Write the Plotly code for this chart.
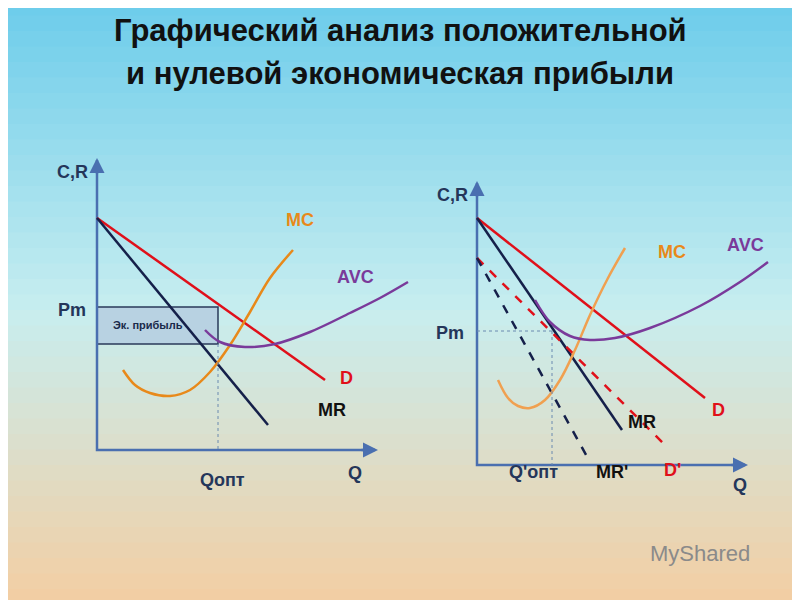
import plotly.graph_objects as go

# Schematic coordinates in slide units (x: 0..800 to the right, y: 0..600 downward)
# ---- left panel
L_AXIS_X = [97, 97, 375]
L_AXIS_Y = [160, 450, 450]
L_D_X, L_D_Y = [97, 325], [218, 380]
L_MR_X, L_MR_Y = [97, 268], [218, 425]
L_MC_X = [123, 135, 150, 170, 190, 210, 230, 250, 270, 293]
L_MC_Y = [370, 385, 393, 396, 390, 372, 345, 312, 278, 250]
L_AVC_X = [205, 220, 245, 275, 310, 350, 380, 408]
L_AVC_Y = [330, 342, 347, 344, 332, 313, 298, 282]
L_PROFIT_X = [97, 218]
L_PROFIT_Y = [307, 344]
# ---- right panel
R_AXIS_X = [477, 477, 745]
R_AXIS_Y = [183, 465, 465]
R_D_X, R_D_Y = [477, 705], [218, 398]
R_MR_X, R_MR_Y = [477, 622], [218, 430]
R_D2_X, R_D2_Y = [477, 668], [258, 448]
R_MR2_X, R_MR2_Y = [477, 590], [258, 462]
R_MC_X = [498, 508, 518, 530, 545, 560, 575, 590, 608, 625]
R_MC_Y = [380, 398, 406, 408, 400, 380, 350, 315, 278, 248]
R_AVC_X = [535, 550, 570, 590, 615, 650, 700, 740, 768]
R_AVC_Y = [300, 322, 336, 340, 338, 328, 306, 282, 262]
R_PM_Y = 331
R_Q_X = 552

ORANGE = "#e8891a"
PURPLE = "#7a3a9a"
RED = "#e0101a"
NAVY = "#15204a"
AXIS = "#4a6fb0"
OFF = 8  # page body margin shift

fig = go.Figure()

# background gradient bands (cyan top -> peach bottom)
top, mid, bot = (110, 205, 235), (200, 238, 240), (245, 205, 160)
shapes = []
n = 40
for i in range(n):
    t = i / (n - 1)
    if t < 0.5:
        a, b, u = top, mid, t / 0.5
    else:
        a, b, u = mid, bot, (t - 0.5) / 0.5
    c = tuple(int(a[k] + (b[k] - a[k]) * u) for k in range(3))
    shapes.append(dict(type="rect", xref="x", yref="y", x0=0, x1=820,
                       y0=620 * i / n, y1=620 * (i + 1) / n + 1,
                       fillcolor="rgb(%d,%d,%d)" % c, line_width=0, layer="below"))

# profit rectangle (under the curves)
shapes.append(dict(type="rect", xref="x", yref="y", x0=L_PROFIT_X[0], x1=L_PROFIT_X[1],
                   y0=L_PROFIT_Y[0], y1=L_PROFIT_Y[1], fillcolor="#b8d2e2",
                   line=dict(color="#2a3a5a", width=1.5), layer="below"))
# dashed guides
shapes.append(dict(type="line", x0=L_PROFIT_X[1], x1=L_PROFIT_X[1], y0=L_PROFIT_Y[1], y1=450,
                   line=dict(color="#6a8ab0", width=1, dash="dot")))
shapes.append(dict(type="line", x0=477, x1=R_Q_X, y0=R_PM_Y, y1=R_PM_Y,
                   line=dict(color="#6a8ab0", width=1, dash="dot")))
shapes.append(dict(type="line", x0=R_Q_X, x1=R_Q_X, y0=R_PM_Y, y1=465,
                   line=dict(color="#6a8ab0", width=1, dash="dot")))


def line(x, y, color, width=2.5, dash="solid", shape="spline"):
    fig.add_trace(go.Scatter(x=x, y=y, mode="lines", line=dict(color=color, width=width,
                                                               dash=dash, shape=shape),
                             hoverinfo="skip"))


line(L_AXIS_X, L_AXIS_Y, AXIS, 2.5, shape="linear")
line(R_AXIS_X, R_AXIS_Y, AXIS, 2.5, shape="linear")
line(L_D_X, L_D_Y, RED)
line(L_MR_X, L_MR_Y, NAVY)
line(L_MC_X, L_MC_Y, ORANGE)
line(L_AVC_X, L_AVC_Y, PURPLE)
line(R_D_X, R_D_Y, RED)
line(R_MR_X, R_MR_Y, NAVY)
line(R_D2_X, R_D2_Y, RED, dash="dash")
line(R_MR2_X, R_MR2_Y, NAVY, dash="dash")
line(R_MC_X, R_MC_Y, "#f0a050")
line(R_AVC_X, R_AVC_Y, PURPLE)

ann = []
for ax0, ay0, ax1, ay1 in [(97, 175, 97, 158), (360, 450, 378, 450),
                           (477, 198, 477, 181), (730, 465, 748, 465)]:
    ann.append(dict(x=ax1, y=ay1, ax=ax0, ay=ay0, xref="x", yref="y", axref="x", ayref="y",
                    showarrow=True, arrowhead=2, arrowsize=1.2, arrowwidth=2.5,
                    arrowcolor=AXIS, text=""))


def txt(x, y, s, color="#24365a", size=18, bold=True):
    ann.append(dict(x=x, y=y, xref="x", yref="y", text="<b>%s</b>" % s if bold else s,
                    showarrow=False, font=dict(size=size, color=color, family="Arial")))


txt(400, 30, "Графический анализ положительной", "#111", 31)
txt(400, 73, "и нулевой экономическая прибыли", "#111", 31)
txt(72, 172, "C,R")
txt(72, 310, "Pm")
txt(148, 325, "Эк. прибыль", "#1a2a4a", 11)
txt(300, 220, "MC", ORANGE)
txt(355, 277, "AVC", PURPLE)
txt(346, 378, "D", RED)
txt(332, 410, "MR", "#111")
txt(355, 473, "Q")
txt(222, 480, "Qопт")
txt(452, 195, "C,R")
txt(450, 333, "Pm")
txt(672, 252, "MC", ORANGE)
txt(745, 245, "AVC", PURPLE)
txt(718, 410, "D", RED)
txt(642, 422, "MR", "#111")
txt(672, 470, "D'", RED)
txt(612, 472, "MR'", "#111")
txt(533, 472, "Q'опт")
txt(740, 485, "Q")
txt(700, 553, "MyShared", "#8a8a8a", 22, False)

fig.update_layout(
    width=800, height=600, margin=dict(l=0, r=0, t=0, b=0), showlegend=False,
    xaxis=dict(range=[OFF, 800 + OFF], visible=False, fixedrange=True),
    yaxis=dict(range=[600 + OFF, OFF], visible=False, fixedrange=True),
    plot_bgcolor="white", paper_bgcolor="white", shapes=shapes, annotations=ann,
)
fig.write_html("out.html")
